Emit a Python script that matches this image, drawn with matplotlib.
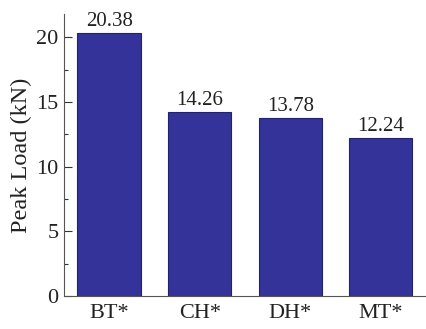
import matplotlib
matplotlib.use('Agg')
import matplotlib.pyplot as plt
from matplotlib.ticker import MultipleLocator

# peak load per specimen group
groups = ['BT*', 'CH*', 'DH*', 'MT*']
peak_load = [20.38, 14.26, 13.78, 12.24]

plt.rcParams['font.family'] = ['Liberation Serif', 'DejaVu Serif']

fig = plt.figure(figsize=(4.26, 3.29), dpi=100)
ax = fig.add_axes([0.150, 0.100, 0.850, 0.857])

x = range(len(groups))
bars = ax.bar(x, peak_load, width=0.7, color='#333399', edgecolor='#22226e', linewidth=0.8)
for xi, v in zip(x, peak_load):
    ax.text(xi, v + 0.12, f'{v:.2f}', ha='center', va='bottom', fontsize=15, color='#222222')

ax.set_xlim(-0.5, 3.5)
ax.set_ylim(0, 21.8)
ax.set_xticks(list(x))
ax.set_xticklabels(groups, fontsize=16)
ax.yaxis.set_major_locator(MultipleLocator(5))
ax.yaxis.set_minor_locator(MultipleLocator(2.5))
ax.tick_params(axis='y', which='major', direction='in', length=6, width=0.8, colors='#333333',
               labelcolor='#222222', labelsize=16, pad=4)
ax.tick_params(axis='y', which='minor', direction='in', length=3, width=0.8, colors='#333333')
ax.tick_params(axis='x', length=0, pad=6, labelcolor='#222222')
ax.set_ylabel('Peak Load (kN)', fontsize=17.5, color='#222222', labelpad=3)

for side in ['top', 'right']:
    ax.spines[side].set_visible(False)
ax.spines['left'].set_color('#555555')
ax.spines['bottom'].set_color('#555555')

fig.savefig('out.png', dpi=100)
